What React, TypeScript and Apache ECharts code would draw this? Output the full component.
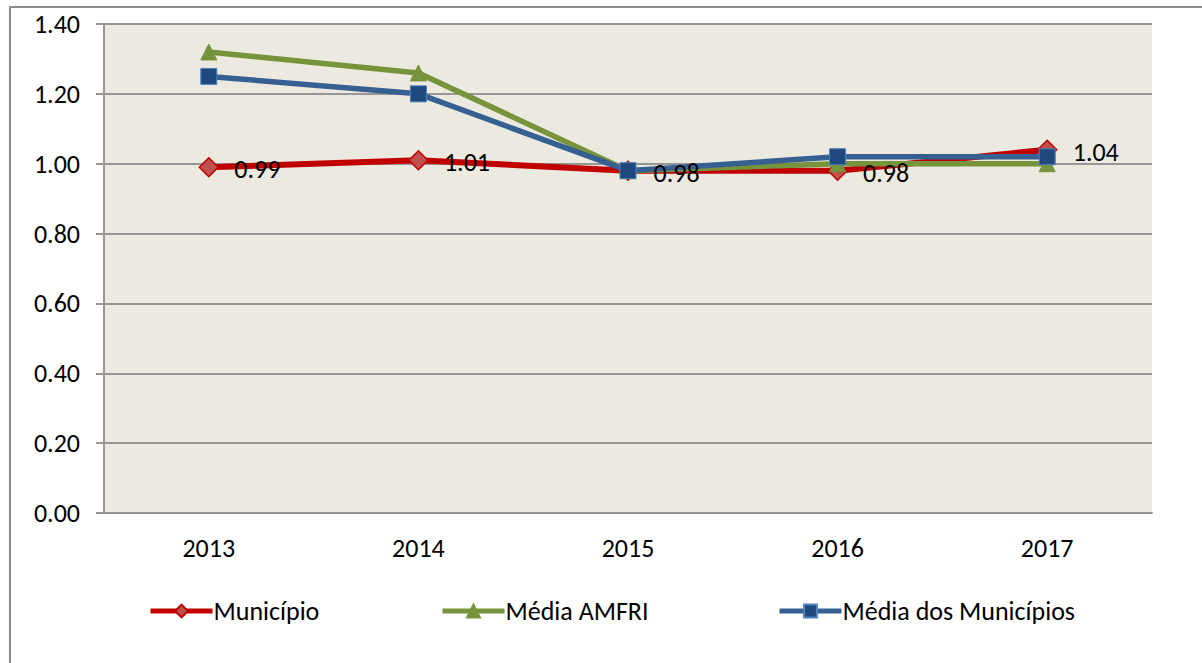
import React, { useEffect, useRef } from "react";
import * as echarts from "echarts";

const years = ["2013", "2014", "2015", "2016", "2017"];
const municipio = [0.99, 1.01, 0.98, 0.98, 1.04];
const mediaAmfri = [1.32, 1.26, 0.98, 1.0, 1.0];
const mediaMunicipios = [1.25, 1.2, 0.98, 1.02, 1.02];
const seriesNames = ["Município", "Média AMFRI", "Média dos Municípios"];

const FONT = "Carlito, Lato, 'Open Sans', sans-serif";
const FS = 26;

const legendLefts = [148, 440, 777];

export default function App() {
  const ref = useRef<HTMLDivElement>(null);
  useEffect(() => {
    if (!ref.current) return;
    const chart = echarts.init(ref.current, null, { renderer: "svg" });
    chart.setOption({
      animation: false,
      backgroundColor: "#ffffff",
      textStyle: { fontFamily: FONT },
      graphic: [
        {
          type: "rect",
          shape: { x: 10, y: 7, width: 1200, height: 680 },
          style: { fill: "none", stroke: "#8c8c8c", lineWidth: 2 },
          z: -1,
        },
      ],
      grid: {
        left: 104,
        right: 50,
        top: 24,
        bottom: 150,
        show: true,
        backgroundColor: "#ECEAE0",
        borderWidth: 0,
      },
      legend: seriesNames.map((n, i) => ({
        left: legendLefts[i],
        top: 598,
        padding: 0,
        itemWidth: 62,
        itemHeight: 16,
        lineStyle: { width: 5 },
        textStyle: { fontSize: FS, color: "#000", fontFamily: FONT, padding: [0, 0, 0, -4] },
        data: [n],
      })),
      xAxis: {
        type: "category",
        data: years,
        boundaryGap: true,
        axisLine: { show: true, lineStyle: { color: "#969696", width: 2 } },
        axisTick: { show: false },
        axisLabel: { fontSize: FS, color: "#000", margin: 22, fontFamily: FONT },
        splitLine: { show: false },
      },
      yAxis: {
        type: "value",
        min: 0,
        max: 1.4,
        interval: 0.2,
        axisLine: { show: true, lineStyle: { color: "#969696", width: 2 } },
        axisTick: { show: true, length: 8, lineStyle: { color: "#969696", width: 2 } },
        axisLabel: {
          fontSize: FS,
          color: "#000",
          margin: 24,
          fontFamily: FONT,
          formatter: (v: number) => v.toFixed(2),
        },
        splitLine: { show: true, lineStyle: { color: "#969696", width: 2 } },
      },
      series: [
        {
          name: seriesNames[0],
          type: "line",
          data: municipio,
          symbol: "diamond",
          symbolSize: 19,
          lineStyle: { color: "#C00000", width: 6 },
          itemStyle: { color: "#C0504D", borderColor: "#C00000", borderWidth: 1.5 },
          z: 2,
        },
        {
          name: seriesNames[1],
          type: "line",
          data: mediaAmfri,
          symbol: "triangle",
          symbolSize: 16,
          lineStyle: { color: "#77933C", width: 5.5 },
          itemStyle: { color: "#77933C", borderColor: "#77933C", borderWidth: 1 },
          z: 3,
        },
        {
          name: seriesNames[2],
          type: "line",
          data: mediaMunicipios,
          symbol: "rect",
          symbolSize: 16,
          lineStyle: { color: "#376092", width: 5.5 },
          itemStyle: { color: "#1F497D", borderColor: "#4F81BD", borderWidth: 1 },
          z: 4,
        },
        {
          name: "rótulos",
          type: "scatter",
          data: municipio,
          symbol: "diamond",
          symbolSize: 19,
          itemStyle: { color: "rgba(0,0,0,0)", opacity: 1 },
          silent: true,
          label: {
            show: true,
            position: "right",
            distance: 16,
            offset: [0, 2],
            fontSize: FS,
            color: "#000",
            opacity: 1,
            fontFamily: FONT,
            formatter: (p: any) => Number(p.value).toFixed(2),
          },
          z: 10,
        },
      ],
    });
    return () => chart.dispose();
  }, []);
  return (
    <div
      ref={ref}
      style={{ position: "absolute", left: 0, top: 0, width: 1202, height: 663 }}
    />
  );
}
